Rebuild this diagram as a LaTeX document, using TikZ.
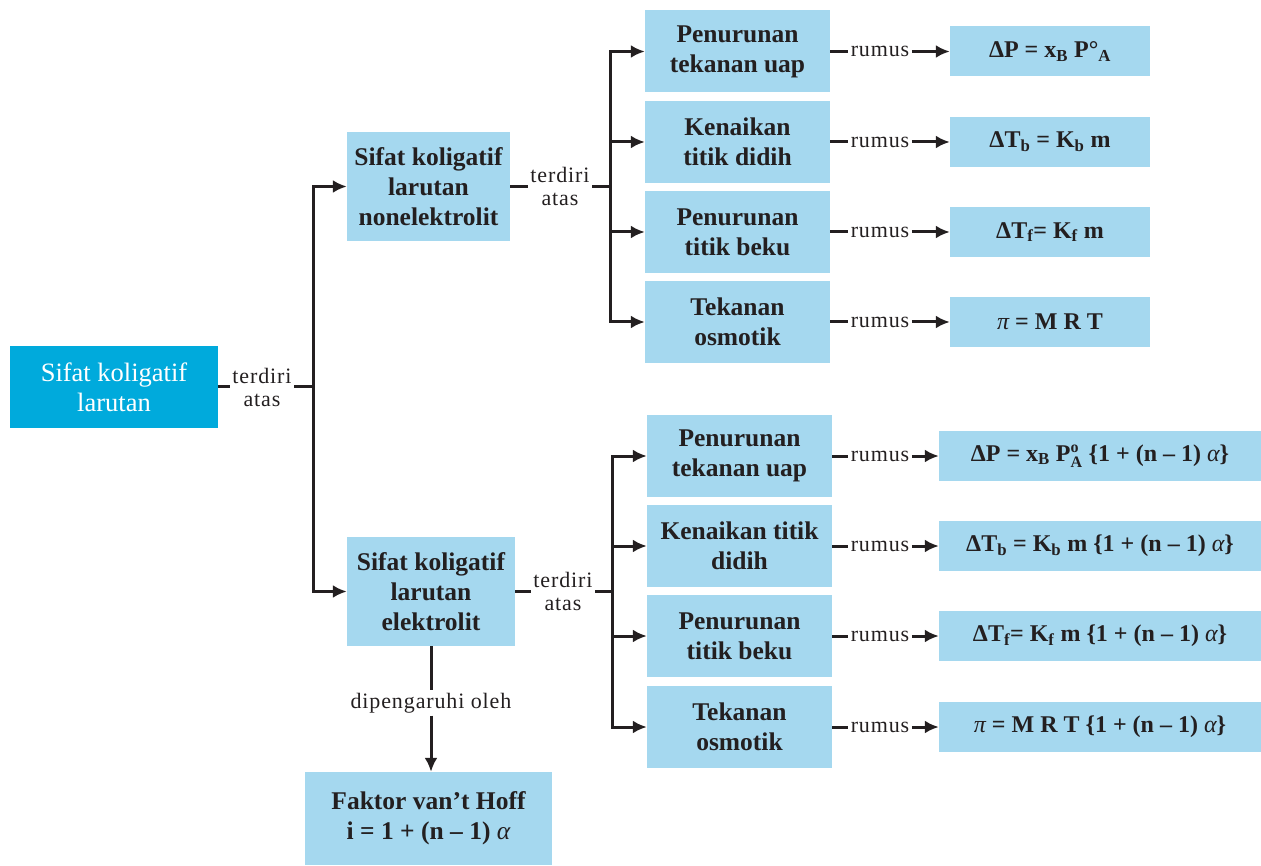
\documentclass[tikz,border=0pt]{standalone}
\usepackage{fontspec}
\setmainfont{Liberation Serif}
\newfontfamily\lblfont[LetterSpace=4]{Liberation Serif}
\usetikzlibrary{arrows.meta}
\definecolor{boxblue}{HTML}{A5D8EF}
\definecolor{rootblue}{HTML}{00AADC}
\definecolor{ink}{HTML}{231F20}
\newcommand{\gr}[1]{{\normalfont\itshape #1}}
\newcommand{\scr}[1]{\hbox{\fontsize{16}{16}\selectfont\bfseries #1}}
\begin{document}
\begin{tikzpicture}[x=1pt, y=-1pt,
    box/.style={fill=boxblue, text=ink, align=center, inner sep=0pt,
      font=\bfseries\fontsize{25.5}{30}\selectfont},
    fbox/.style={box, font=\bfseries\fontsize{24}{29}\selectfont, minimum height=50},
    lbl/.style={text=ink, align=center, inner sep=2.5pt, font=\lblfont\fontsize{22}{23}\selectfont},
    link/.style={ink, line width=3pt},
    arr/.style={link, -{Latex[length=14pt, width=13pt]}}]
    \useasboundingbox (0,0) rectangle (1261,866);
    % main boxes
    \node[box, fill=rootblue, text=white, font=\fontsize{26.5}{30}\selectfont,
      minimum width=208, minimum height=82] (root) at (114,387) {Sifat koligatif\\larutan};
    \node[box, minimum width=163, minimum height=109] (nonel) at (428.5,186.5) {Sifat koligatif\\larutan\\nonelektrolit};
    \node[box, minimum width=168, minimum height=109] (elek) at (431,591.5) {Sifat koligatif\\larutan\\elektrolit};
    \node[box, minimum width=247, minimum height=93] (vant) at (428.5,818.5) {Faktor van’t Hoff\\i = 1 + (n – 1) \gr{α}};
    % labels
    \node[lbl] (t0) at (262,387) {terdiri\\atas};
    \node[lbl] (t1) at (560,186.5) {terdiri\\atas};
    \node[lbl] (t2) at (563,591.5) {terdiri\\atas};
    \node[lbl] (dp) at (431,703) {dipengaruhi oleh};
    \coordinate (j0) at (313,387);
    \coordinate (j1) at (610,186.5);
    \coordinate (j2) at (612,591.5);
    % nonelektrolit
    \foreach \i/\y/\t in {1/51.5/{Penurunan\\tekanan uap}, 2/142/{Kenaikan\\titik didih},
        3/232/{Penurunan\\titik beku}, 4/322/{Tekanan\\osmotik}}
      \node[box, minimum width=185, minimum height=82] (u\i) at (737.5,\y) {\t};
    \foreach \i/\y/\f in {1/51.5/{ΔP = x\textsubscript{B} P°\textsubscript{A}},
        2/142/{ΔT\textsubscript{b} = K\textsubscript{b} m},
        3/232/{ΔT\textsubscript{f}= K\textsubscript{f} m},
        4/322/{\gr{π} = M R T}}
      \node[fbox, minimum width=200] (fu\i) at (1050,\y) {\f};
    % elektrolit
    \foreach \i/\y/\t in {1/456/{Penurunan\\tekanan uap}, 2/546/{Kenaikan titik\\didih},
        3/636/{Penurunan\\titik beku}, 4/727/{Tekanan\\osmotik}}
      \node[box, minimum width=185, minimum height=82] (l\i) at (739.5,\y) {\t};
    \foreach \i/\y/\f in {1/456/{ΔP = x\textsubscript{B} P$^{\scr{o}}_{\scr{A}}$ \{1 + (n – 1) \gr{α}\}},
        2/546/{ΔT\textsubscript{b} = K\textsubscript{b} m \{1 + (n – 1) \gr{α}\}},
        3/636/{ΔT\textsubscript{f}= K\textsubscript{f} m \{1 + (n – 1) \gr{α}\}},
        4/727/{\gr{π} = M R T \{1 + (n – 1) \gr{α}\}}}
      \node[fbox, minimum width=322] (fl\i) at (1100,\y) {\f};
    % rumus labels
    \foreach \i in {1,...,4} {
      \node[lbl] (ru\i) at (880,0 |- u\i) {rumus};
      \node[lbl] (rl\i) at (880,0 |- l\i) {rumus};
      \draw[link] (u\i.east) -- (ru\i.west);
      \draw[arr] (ru\i.east) -- (fu\i.west);
      \draw[link] (l\i.east) -- (rl\i.west);
      \draw[arr] (rl\i.east) -- (fl\i.west);
      \draw[arr] (j1) |- (u\i.west);
      \draw[arr] (j2) |- (l\i.west);
    }
    % trunk
    \draw[link] (root.east) -- (t0.west);
    \draw[link] (t0.east) -- (j0);
    \draw[arr] (j0) |- (nonel.west);
    \draw[arr] (j0) |- (elek.west);
    \draw[link] (nonel.east) -- (t1.west);
    \draw[link] (t1.east) -- (j1);
    \draw[link] (elek.east) -- (t2.west);
    \draw[link] (t2.east) -- (j2);
    \draw[link] (dp.north |- elek.south) -- (dp.north);
    \draw[arr] (dp.south) -- (dp.south |- vant.north);
\end{tikzpicture}
\end{document}
